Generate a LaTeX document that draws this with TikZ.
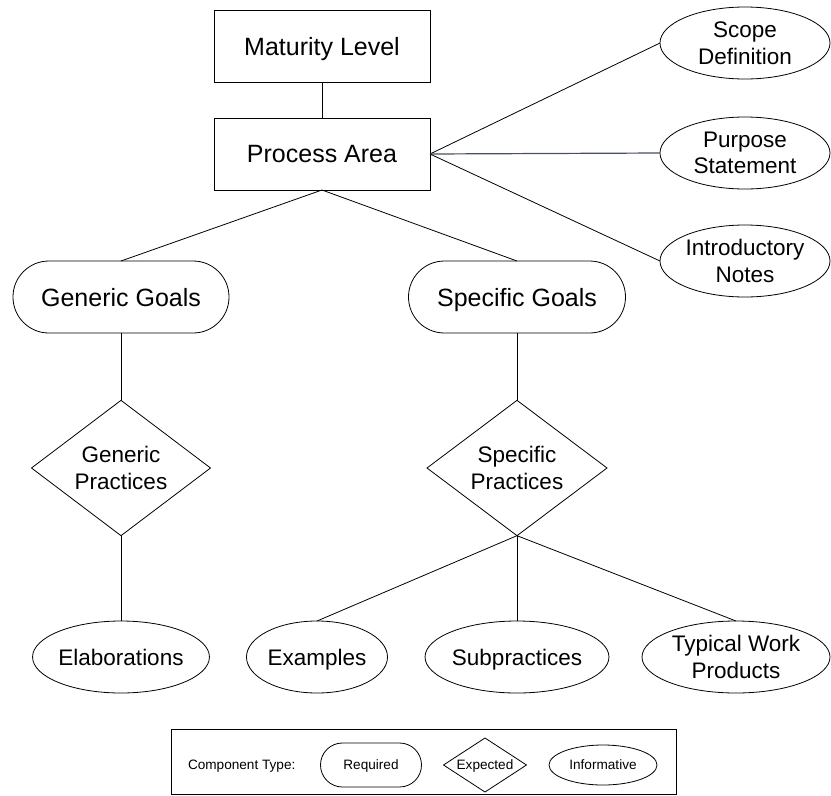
\documentclass[tikz,border=0pt]{standalone}
\usepackage{fontspec}
\setmainfont{Liberation Sans}
\usetikzlibrary{shapes.geometric}

\begin{document}
\begin{tikzpicture}[x=1pt,y=-1pt,
  every node/.style={inner sep=0pt, outer sep=0pt, align=center},
  even/.style={execute at begin node={\vphantom{A}}, text depth=0pt},
  link/.style={draw=black, line width=0.8pt},
  bigtext/.style={font=\fontsize{25}{29}\selectfont, even},
  midtext/.style={font=\fontsize{22.5}{26.5}\selectfont, even},
  smalltext/.style={font=\fontsize{13.6}{16}\selectfont, even},
  levelbox/.style={draw, line width=0.8pt, rectangle, minimum width=216pt, minimum height=72pt, bigtext},
  required/.style={draw, line width=0.8pt, rectangle, rounded corners=35.9pt, minimum height=72pt, bigtext},
  expected/.style={draw, line width=0.8pt, diamond, midtext},
  informative/.style={draw, line width=0.8pt, ellipse, minimum height=72pt, midtext}
]
\useasboundingbox (0,0) rectangle (831,796);

% upper hierarchy
\node[levelbox] (ml) at (322,46) {Maturity Level};
\node[levelbox] (pa) at (322,154) {Process Area};

% informative components of the process area
\node[informative, minimum width=170pt] (sd) at (745,43) {Scope\\Definition};
\node[informative, minimum width=170pt] (ps) at (745,153) {Purpose\\Statement};
\node[informative, minimum width=170pt] (in) at (745,261) {Introductory\\Notes};

% goals
\node[required, minimum width=216pt] (gg) at (121,297) {Generic Goals};
\node[required, minimum width=217pt] (sg) at (517,297) {Specific Goals};

% practices
\node[expected, minimum width=179pt, minimum height=126pt] (gp) at (121,468) {Generic\\Practices};
\node[expected, minimum width=180pt, minimum height=126pt] (sp) at (517,468) {Specific\\Practices};

% informative details
\node[informative, minimum width=176pt] (el) at (121,657) {Elaborations};
\node[informative, minimum width=141pt] (ex) at (317,657) {Examples};
\node[informative, minimum width=180pt] (su) at (517,657) {Subpractices};
\node[informative, minimum width=188pt] (tw) at (736,657) {Typical Work\\Products};

% connectors
\draw[link] (ml.south) -- (pa.north);
\draw[link] (pa.east) -- (sd.west);
\draw[draw={rgb,255:red,70;green,80;blue,96}, line width=1.2pt] (pa.east) -- (ps.west);
\draw[link] (pa.east) -- (in.west);
\draw[link] (pa.south) -- (gg.north);
\draw[link] (pa.south) -- (sg.north);
\draw[link] (gg.south) -- (gp.north);
\draw[link] (sg.south) -- (sp.north);
\draw[link] (gp.south) -- (el.north);
\draw[link] (sp.south) -- (ex.north);
\draw[link] (sp.south) -- (su.north);
\draw[link] (sp.south) -- (tw.north);

% legend
\node[draw, line width=0.8pt, rectangle, minimum width=505pt, minimum height=65pt] (lg) at (423.5,761.5) {};
\node[smalltext, anchor=west] (lgt) at (188,765) {Component Type:};
\node[draw, line width=0.8pt, rectangle, rounded corners=21.9pt, minimum width=101pt, minimum height=44pt, smalltext] (lreq) at (371,765) {Required};
\node[draw, line width=0.8pt, diamond, minimum width=83pt, minimum height=54pt, font=\fontsize{13.6}{16}\selectfont] (lexp) at (485,765) {\makebox[0pt]{\raisebox{-0.36em}[0pt][0pt]{Expected}}};
\node[draw, line width=0.8pt, ellipse, minimum width=108pt, minimum height=40pt, smalltext] (linf) at (603,765) {Informative};
\end{tikzpicture}
\end{document}
